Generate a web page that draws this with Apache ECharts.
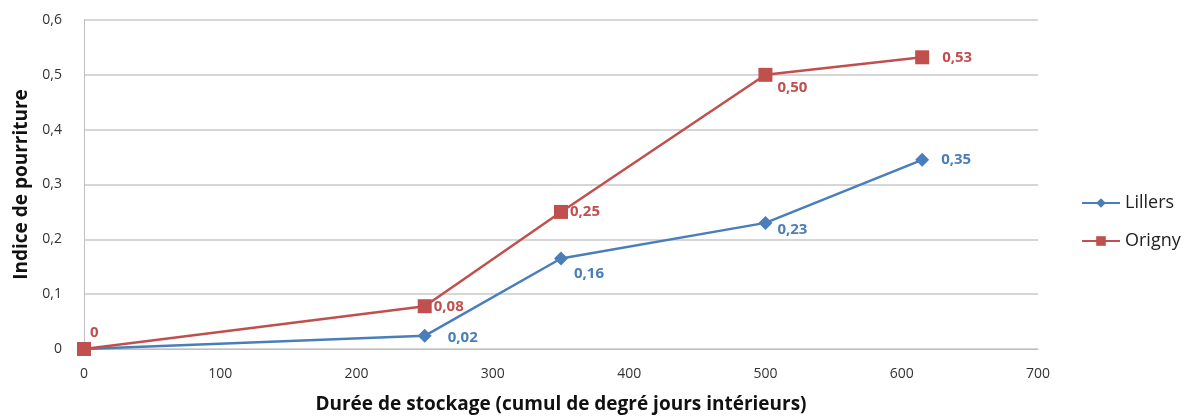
<!DOCTYPE html>
<html lang="fr">
<head>
    <meta charset="UTF-8">
    <title>Indice de pourriture</title>
    <script src="https://cdn.jsdelivr.net/npm/echarts@6/dist/echarts.min.js"></script>
    <style>
        html, body { margin: 0; padding: 0; background: #fff; }
        #chart { width: 1201px; height: 418px; }
    </style>
</head>
<body>
<div id="chart"></div>
<script>
    // durée de stockage (degré jours)
    var xDays = [0, 250, 350, 500, 615];
    var lillers = [0, 0.024, 0.165, 0.23, 0.345];
    var origny = [0, 0.078, 0.25, 0.50, 0.532];
    var lillersLabels = ['', '0,02', '0,16', '0,23', '0,35'];
    var orignyLabels = ['0', '0,08', '0,25', '0,50', '0,53'];
    // décalage des étiquettes (px)
    var lillersShift = [[0, 0], [11, 2], [1, 15], [0, 7], [7, 0]];
    var orignyShift = [[-6, -16], [-3, 1], [-3, 0], [0, 13], [8, 0]];

    var font = '"Open Sans", "Noto Sans", sans-serif';

    function buildData(ys, labels, shift, color) {
        var out = [];
        for (var i = 0; i < ys.length; i++) {
            out.push({
                value: [xDays[i], ys[i]],
                label: {
                    show: labels[i] !== '',
                    formatter: labels[i],
                    position: 'right',
                    distance: 5,
                    offset: shift[i],
                    color: color,
                    fontWeight: 'bold',
                    fontSize: 15,
                    fontFamily: font
                }
            });
        }
        return out;
    }

    var chart = echarts.init(document.getElementById('chart'));
    chart.setOption({
        animation: false,
        grid: { left: 84, right: 163, top: 20, bottom: 69, outerBoundsMode: 'none' },
        legend: {
            orient: 'vertical',
            left: 1076,
            top: 189,
            itemGap: 20,
            itemWidth: 38,
            itemHeight: 12,
            textStyle: { fontFamily: font, fontSize: 18, color: '#222' },
            data: ['Lillers', 'Origny']
        },
        xAxis: {
            type: 'value',
            min: 0,
            max: 700,
            interval: 100,
            name: 'Durée de stockage (cumul de degré jours intérieurs)',
            nameLocation: 'middle',
            nameGap: 46,
            nameTextStyle: { fontFamily: font, fontSize: 19, fontWeight: 'bold', color: '#111' },
            axisLine: { show: true, lineStyle: { color: '#bfbfbf', width: 1 } },
            axisTick: { show: false },
            splitLine: { show: false },
            axisLabel: { fontFamily: font, fontSize: 14, color: '#333', margin: 18 }
        },
        yAxis: {
            type: 'value',
            min: 0,
            max: 0.6,
            interval: 0.1,
            name: 'Indice de pourriture',
            nameLocation: 'middle',
            nameGap: 52,
            nameTextStyle: { fontFamily: font, fontSize: 19, fontWeight: 'bold', color: '#111' },
            axisLine: { show: true, lineStyle: { color: '#bfbfbf', width: 1 } },
            axisTick: { show: false },
            splitLine: { lineStyle: { color: '#c8c8c8', width: 1.5 } },
            axisLabel: {
                fontFamily: font, fontSize: 14, color: '#333', margin: 22,
                formatter: function (v) { return v === 0 ? '0' : v.toFixed(1).replace('.', ','); }
            }
        },
        series: [
            {
                name: 'Lillers',
                type: 'line',
                symbol: 'diamond',
                symbolSize: 14,
                color: '#4a7ebb',
                lineStyle: { width: 2.5, color: '#4a7ebb' },
                itemStyle: { color: '#4a7ebb' },
                z: 2,
                data: buildData(lillers, lillersLabels, lillersShift, '#4a7ebb')
            },
            {
                name: 'Origny',
                type: 'line',
                symbol: 'rect',
                symbolSize: 14,
                color: '#c0504d',
                lineStyle: { width: 2.5, color: '#c0504d' },
                itemStyle: { color: '#c0504d' },
                z: 3,
                data: buildData(origny, orignyLabels, orignyShift, '#c0504d')
            }
        ]
    });
</script>
</body>
</html>
